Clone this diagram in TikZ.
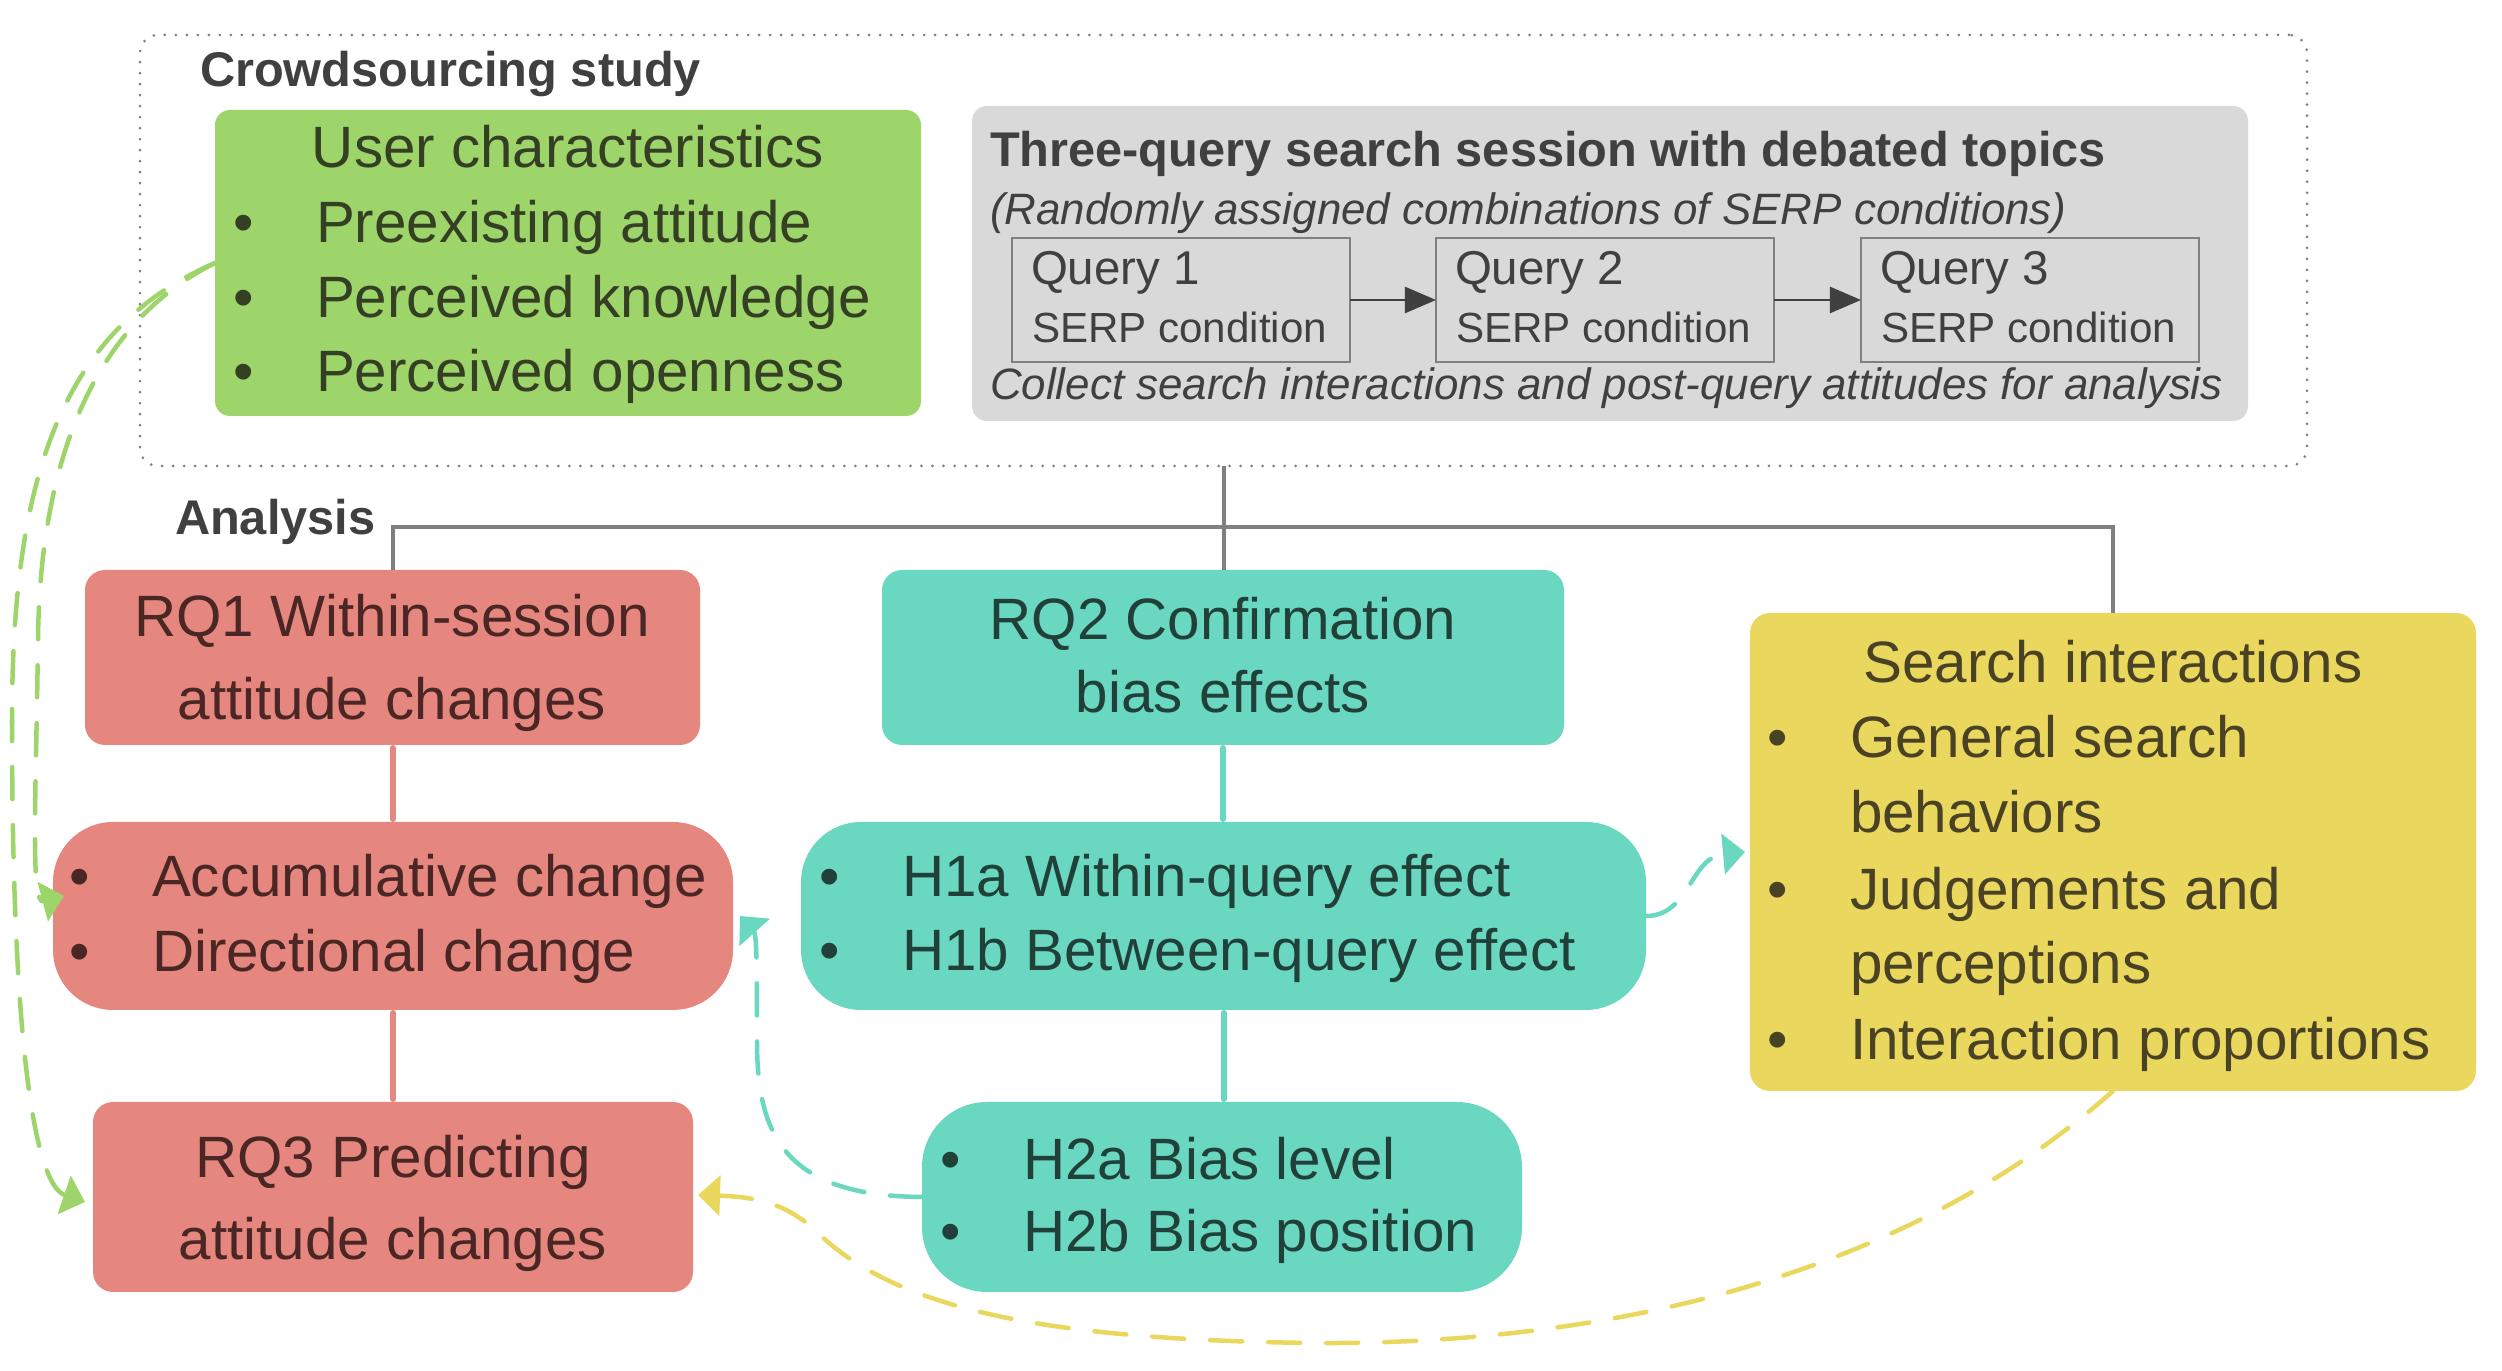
\documentclass[tikz,border=0pt]{standalone}
\usepackage{fontspec}
\setmainfont{Liberation Sans}
\usetikzlibrary{arrows.meta,fit,calc}
\definecolor{cgreen}{RGB}{157,213,106}
\definecolor{cgray}{RGB}{217,217,217}
\definecolor{cred}{RGB}{230,135,127}
\definecolor{cteal}{RGB}{106,216,192}
\definecolor{cyellow}{RGB}{233,215,94}
\definecolor{cline}{RGB}{128,128,128}
\definecolor{tgreen}{RGB}{52,63,36}
\definecolor{tred}{RGB}{74,38,36}
\definecolor{tteal}{RGB}{33,64,57}
\definecolor{tyellow}{RGB}{74,66,36}
\definecolor{tgray}{RGB}{64,64,64}
\newcommand{\dgmain}{\fontsize{16.59}{19}\selectfont}
\newcommand{\dghead}{\fontsize{13.86}{16}\selectfont\bfseries}
\newcommand{\dgital}{\fontsize{12.49}{15}\selectfont\itshape}
\newcommand{\dgquery}{\fontsize{13.5}{16}\selectfont}
\newcommand{\dgserp}{\fontsize{11.98}{14}\selectfont}
\newcommand{\dgbul}[1]{\makebox[0.83cm][l]{\textbullet}#1}
\tikzset{
  region/.style={inner sep=0pt, outer sep=0pt},
  lt/.style={inner sep=0pt, outer sep=0pt, anchor=base west},
  ct/.style={inner sep=0pt, outer sep=0pt, anchor=base},
  treeline/.style={draw=cline, line width=0.04cm},
  redline/.style={draw=cred, line width=0.06cm, line cap=round, shorten <=0.03cm, shorten >=0.03cm},
  tealline/.style={draw=cteal, line width=0.06cm, line cap=round, shorten <=0.03cm, shorten >=0.03cm},
  dashlink/.style={line width=0.045cm, line cap=round, dash pattern=on 0.32cm off 0.26cm,
    -{Triangle[length=0.22cm, width=0.40cm]}},
  qarrow/.style={draw=tgray, line width=0.025cm, -{Triangle[length=0.31cm, width=0.26cm]}},
}
\begin{document}
\begin{tikzpicture}[x=0.01cm, y=-0.01cm]
\useasboundingbox (0,0) rectangle (2502,1371);

% ---------- regions ----------
\node[region, fit={(140,35) (2307,466)}, draw=cline, line width=0.03cm, line cap=round,
      dash pattern=on 0pt off 0.11cm, rounded corners=0.18cm] (crowd) {};
\node[region, fit={(215,110) (921,416)}, fill=cgreen, rounded corners=0.15cm] (green) {};
\node[region, fit={(972,106) (2248,421)}, fill=cgray, rounded corners=0.15cm] (graybox) {};
\node[region, fit={(1012,238) (1350,362)}, draw=cline, line width=0.02cm] (q1) {};
\node[region, fit={(1436,238) (1774,362)}, draw=cline, line width=0.02cm] (q2) {};
\node[region, fit={(1861,238) (2199,362)}, draw=cline, line width=0.02cm] (q3) {};
\node[region, fit={(85,570) (700,745)}, fill=cred, rounded corners=0.2cm] (rq1) {};
\node[region, fit={(882,570) (1564,745)}, fill=cteal, rounded corners=0.2cm] (rq2) {};
\node[region, fit={(1750,613) (2476,1091)}, fill=cyellow, rounded corners=0.2cm] (si) {};
\node[region, fit={(53,822) (733,1010)}, fill=cred, rounded corners=0.6cm] (acc) {};
\node[region, fit={(801,822) (1646,1010)}, fill=cteal, rounded corners=0.6cm] (h1) {};
\node[region, fit={(93,1102) (693,1292)}, fill=cred, rounded corners=0.2cm] (rq3) {};
\node[region, fit={(922,1102) (1522,1292)}, fill=cteal, rounded corners=0.65cm] (h2) {};

% ---------- texts ----------
\node[lt, text=tgray, font=\dghead] (crowdtitle) at (200,87) {Crowdsourcing study};
\node[lt, text=tgray, font=\dghead] (analysis) at (175,535) {Analysis};

\node[ct, text=tgreen, font=\dgmain] (uct) at (568,168) {User characteristics};
\node[lt, text=tgreen, font=\dgmain] (uc1) at (233,243) {\dgbul{Preexisting attitude}};
\node[lt, text=tgreen, font=\dgmain] (uc2) at (233,318) {\dgbul{Perceived knowledge}};
\node[lt, text=tgreen, font=\dgmain] (uc3) at (233,392) {\dgbul{Perceived openness}};

\node[lt, text=tgray, font=\dghead] (gt) at (990,167) {Three-query search session with debated topics};
\node[lt, text=tgray, font=\dgital] (gs) at (990,225) {(Randomly assigned combinations of SERP conditions)};
\node[lt, text=tgray, font=\dgital] (gf) at (990,400) {Collect search interactions and post-query attitudes for analysis};
\node[lt, text=tgray, font=\dgquery] (q1a) at (1031,285) {Query 1};
\node[lt, text=tgray, font=\dgserp] (q1b) at (1032,343) {SERP condition};
\node[lt, text=tgray, font=\dgquery] (q2a) at (1455,285) {Query 2};
\node[lt, text=tgray, font=\dgserp] (q2b) at (1456,343) {SERP condition};
\node[lt, text=tgray, font=\dgquery] (q3a) at (1880,285) {Query 3};
\node[lt, text=tgray, font=\dgserp] (q3b) at (1881,343) {SERP condition};

\node[ct, text=tred, font=\dgmain] (rq1a) at (392,637) {RQ1 Within-session};
\node[ct, text=tred, font=\dgmain] (rq1b) at (392,720) {attitude changes};
\node[ct, text=tteal, font=\dgmain] (rq2a) at (1223,640) {RQ2 Confirmation};
\node[ct, text=tteal, font=\dgmain] (rq2b) at (1223,713) {bias effects};
\node[ct, text=tred, font=\dgmain] (rq3a) at (393,1178) {RQ3 Predicting};
\node[ct, text=tred, font=\dgmain] (rq3b) at (393,1260) {attitude changes};

\node[lt, text=tred, font=\dgmain] (acc1) at (69,897) {\dgbul{Accumulative change}};
\node[lt, text=tred, font=\dgmain] (acc2) at (69,972) {\dgbul{Directional change}};
\node[lt, text=tteal, font=\dgmain] (h1a) at (819,897) {\dgbul{H1a Within-query effect}};
\node[lt, text=tteal, font=\dgmain] (h1b) at (819,971) {\dgbul{H1b Between-query effect}};
\node[lt, text=tteal, font=\dgmain] (h2a) at (940,1180) {\dgbul{H2a Bias level}};
\node[lt, text=tteal, font=\dgmain] (h2b) at (940,1252) {\dgbul{H2b Bias position}};

\node[ct, text=tyellow, font=\dgmain] (sit) at (2113,683) {Search interactions};
\node[lt, text=tyellow, font=\dgmain] (si1) at (1767,758) {\dgbul{General search}};
\node[lt, text=tyellow, font=\dgmain] (si1b) at (1850,833) {behaviors};
\node[lt, text=tyellow, font=\dgmain] (si2) at (1767,910) {\dgbul{Judgements and}};
\node[lt, text=tyellow, font=\dgmain] (si2b) at (1850,984) {perceptions};
\node[lt, text=tyellow, font=\dgmain] (si3) at (1767,1060) {\dgbul{Interaction proportions}};

% ---------- connectors ----------
\draw[qarrow] (q1.east) -- (q2.west);
\draw[qarrow] (q2.east) -- (q3.west);

\draw[treeline] (crowd.south) -- ++(0,61) coordinate (junc);
\draw[treeline] (junc) -- (junc |- rq2.north);
\draw[treeline] (rq1.north) |- (junc) -| (si.north);

\draw[redline] (rq1.south) -- (rq1.south |- acc.north);
\draw[redline] (acc.south) -- (acc.south |- rq3.north);
\draw[tealline] (rq2.south) -- (rq2.south |- h1.north);
\draw[tealline] (h1.south) -- (h1.south |- h2.north);

% green dashed
\draw[dashlink, draw=cgreen] (green.west) .. controls (100,320) and (40,450) .. (38,640)
  .. controls (36,800) and (30,905) .. ($(acc.west)+(11,-20)$);
\draw[dashlink, draw=cgreen] (green.west) .. controls (60,330) and (12,480) .. (12,720)
  .. controls (12,1050) and (35,1185) .. ($(rq3.west)+(-8,5)$);
% teal dashed
\draw[dashlink, draw=cteal] (h2.west) .. controls (780,1196) and (757,1130) .. (757,1040)
  .. controls (757,980) and (757,935) .. ($(acc.east)+(7,0)$);
\draw[dashlink, draw=cteal] (h1.east) .. controls (1690,916) and (1690,857) .. ($(si.west)+(-5,0)$);
% yellow dashed
\draw[dashlink, draw=cyellow] (si.south) .. controls (1900,1280) and (1600,1345) .. (1314,1343)
  .. controls (1050,1340) and (900,1310) .. (820,1235)
  .. controls (790,1205) and (760,1197) .. ($(rq3.east)+(5,-2)$);
\end{tikzpicture}
\end{document}
